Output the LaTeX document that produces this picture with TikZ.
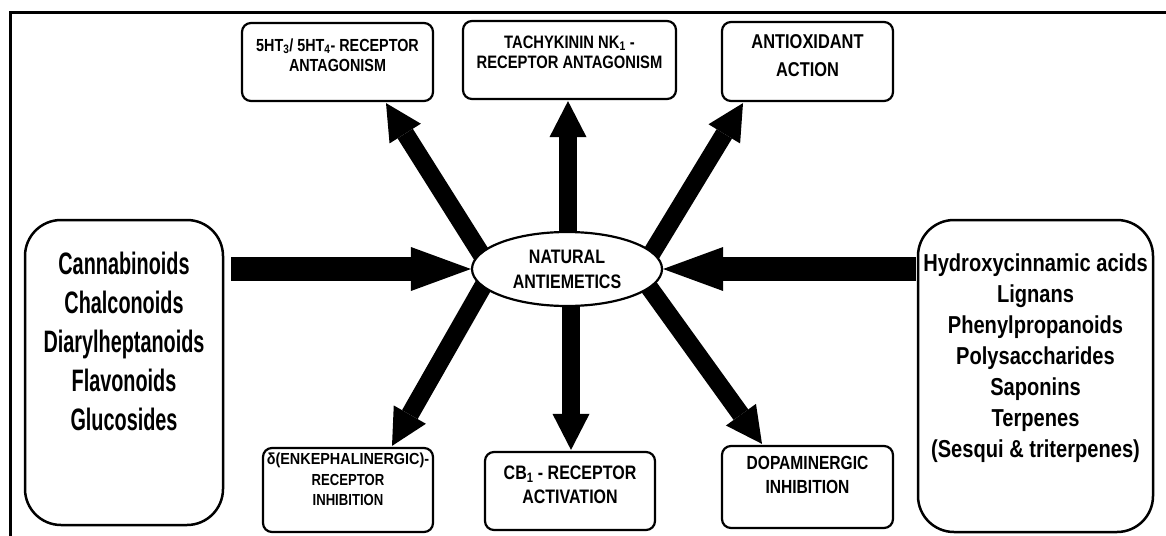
\documentclass[tikz,border=0pt]{standalone}
\usepackage{fontspec}
\setmainfont{Liberation Sans}
\newfontfamily\nar[FakeStretch=0.82]{Liberation Sans}
\newfontfamily\narW[FakeStretch=0.9]{Liberation Sans}
\newfontfamily\narL[FakeStretch=0.64]{Liberation Sans}
\usetikzlibrary{arrows.meta,shapes.geometric,backgrounds,calc}
\newcommand{\bxt}[4]{\parbox[c][#2][c]{#1}{\centering #4\par\vspace{#3}}}
\tikzset{
  lbl/.style={draw, line width=2.2pt, rounded corners=9pt, fill=white, inner sep=0pt},
  bigbox/.style={draw, line width=2.5pt, rounded corners=36pt, fill=white, inner sep=0pt},
  thinarr/.style={line width=18pt, -{Triangle[line width=0pt,length=36pt,width=37pt]}},
  fatarr/.style={line width=24pt, -{Triangle[line width=0pt,length=60pt,width=44pt]}},
  frame/.style={line width=3pt}
}
\begin{document}
\begin{tikzpicture}[x=1pt,y=-1pt]
\useasboundingbox (0,0) rectangle (1166,535);
% central ellipse
\node[ellipse, draw, line width=2.2pt, fill=white, minimum width=190pt, minimum height=74pt, inner sep=0pt,
      align=center, font={\nar\bfseries\fontsize{19.5}{25}\selectfont}] (ell) at (567,269) {NATURAL\\ANTIEMETICS};
% top boxes
\node[lbl, font={\nar\bfseries\fontsize{17.5}{20}\selectfont}] (b1) at (337.5,62)
  {\bxt{191pt}{78pt}{14pt}{5HT\textsubscript{3}/ 5HT\textsubscript{4}- RECEPTOR\\ANTAGONISM}};
\node[lbl, font={\nar\bfseries\fontsize{18}{20}\selectfont}] (b2) at (569.5,60)
  {\bxt{213pt}{78pt}{16pt}{TACHYKININ NK\textsubscript{1} -\\RECEPTOR ANTAGONISM}};
\node[lbl, font={\nar\bfseries\fontsize{20}{28}\selectfont}] (b3) at (807.5,61.5)
  {\bxt{171pt}{79pt}{11pt}{ANTIOXIDANT\\ACTION}};
% bottom boxes
\node[lbl, font={\nar\bfseries\fontsize{16}{20.5}\selectfont}] (b4) at (348,490)
  {\bxt{170pt}{84pt}{21pt}{{\narW δ(ENKEPHALINERGIC)-}\\RECEPTOR\\INHIBITION}};
\node[lbl, font={\nar\bfseries\fontsize{19.5}{24}\selectfont}] (b5) at (570,491)
  {\bxt{170pt}{78pt}{12pt}{CB\textsubscript{1} - RECEPTOR\\ACTIVATION}};
\node[lbl, font={\nar\bfseries\fontsize{19}{24}\selectfont}] (b6) at (807.5,487)
  {\bxt{171pt}{82pt}{24pt}{DOPAMINERGIC\\INHIBITION}};
% side boxes
\node[bigbox, font={\narL\bfseries\fontsize{31}{39}\selectfont}] (L) at (124,372.5)
  {\bxt{198pt}{305pt}{62pt}{Cannabinoids\\Chalconoids\\Diarylheptanoids\\Flavonoids\\Glucosides}};
\node[bigbox, font={\nar\bfseries\fontsize{24.5}{31}\selectfont}] (R) at (1035.5,376)
  {\bxt{235pt}{312pt}{36pt}{Hydroxycinnamic acids\\Lignans\\Phenylpropanoids\\Polysaccharides\\Saponins\\Terpenes\\(Sesqui \& triterpenes)}};
% arrow end points
\coordinate (t1) at ($(b1.south)+(48.5,1)$);
\coordinate (t2) at ($(b2.south)+(-1.5,1)$);
\coordinate (t3) at ($(b3.south)+(-64.5,1)$);
\coordinate (t4) at ($(b4.north)+(44,-1)$);
\coordinate (t5) at ($(b5.north)+(1,-1)$);
\coordinate (t6) at ($(b6.north)+(-45.5,-1)$);
\coordinate (s1) at ($(ell.center)+(-79,-4)$);
\coordinate (s2) at ($(ell.center)+(1,-24)$);
\coordinate (s3) at ($(ell.center)+(80,-8)$);
\coordinate (s4) at ($(ell.center)+(-77,5)$);
\coordinate (s5) at ($(ell.center)+(4,21)$);
\coordinate (s6) at ($(ell.center)+(74,7)$);
\coordinate (hl) at ($(L.east |- ell.west)+(7,0)$);
\coordinate (hr) at ($(R.west |- ell.east)+(-1,0)$);
\begin{pgfonlayer}{background}
  \draw[frame] (10,13) rectangle (1185,560);
  \draw[thinarr] (s1) -- (t1);
  \draw[thinarr] (s2) -- (t2);
  \draw[thinarr] (s3) -- (t3);
  \draw[thinarr] (s4) -- (t4);
  \draw[thinarr] (s5) -- (t5);
  \draw[thinarr] (s6) -- (t6);
  \draw[fatarr] (hl) -- (ell.west);
  \draw[fatarr] (hr) -- (ell.east);
\end{pgfonlayer}
\end{tikzpicture}
\end{document}
